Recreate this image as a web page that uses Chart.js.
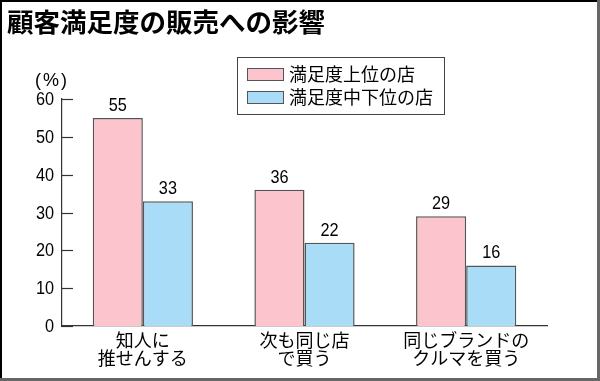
<!DOCTYPE html>
<html>
<head>
<meta charset="utf-8">
<script src="https://cdn.jsdelivr.net/npm/chart.js@4"></script>
<style>
  html, body { margin: 0; padding: 0; background: #fff; }
  #wrap { width: 600px; height: 381px; position: relative; }
</style>
</head>
<body>
<div id="wrap"><canvas id="salesChart" width="600" height="381"></canvas></div>
<script>
// data
const titleText = '顧客満足度の販売への影響';
const unitText = '(%)';
const categories = [['知人に', '推せんする'], ['次も同じ店', 'で買う'], ['同じブランドの', 'クルマを買う']];
const seriesNames = ['満足度上位の店', '満足度中下位の店'];
const topStores = [55, 36, 29];
const lowerStores = [33, 22, 16];
const yTicks = [0, 10, 20, 30, 40, 50, 60];

const pink = '#fcc5cd';
const blue = '#a8dcf7';
const edge = '#555';
const jp = "'Noto Sans CJK JP', sans-serif";
const num = "'Liberation Sans', sans-serif";

// narrow number text (the original uses a condensed face)
function narrowText(c, txt, x, y, align) {
    c.save();
    c.translate(x, y);
    c.scale(0.88, 1);
    c.textAlign = align;
    c.fillText(txt, 0, 0);
    c.restore();
}

// frame, title, unit, ticks, value labels, legend
const decor = {
    id: 'decor',
    beforeDraw(chart) {
        const c = chart.ctx;
        c.save();
        c.fillStyle = '#fff';
        c.fillRect(0, 0, chart.width, chart.height);
        c.restore();
    },
    afterDraw(chart) {
        const c = chart.ctx;
        const y = chart.scales.y;
        const area = chart.chartArea;
        c.save();

        // frame
        c.fillStyle = '#000';
        c.fillRect(0, 0, 600, 2);
        c.fillRect(0, 0, 2, 381);
        c.fillStyle = '#666';
        c.fillRect(597, 0, 3, 381);
        c.fillRect(0, 378, 600, 3);

        // title
        c.fillStyle = '#000';
        c.font = 'bold 26.5px ' + jp;
        c.textBaseline = 'middle';
        c.textAlign = 'left';
        c.fillText(titleText, 7, 22);

        // unit
        c.font = '18px ' + num;
        c.textAlign = 'center';
        c.letterSpacing = '2px';
        c.fillText(unitText, 52, 81);
        c.letterSpacing = '0px';

        // y ticks pointing inward + labels
        c.strokeStyle = '#333';
        c.lineWidth = 1.2;
        c.font = '18.5px ' + num;
        c.textBaseline = 'middle';
        yTicks.forEach(v => {
            const py = Math.round(y.getPixelForValue(v)) + 0.5;
            c.beginPath();
            c.moveTo(area.left, py);
            c.lineTo(area.left + 11, py);
            c.stroke();
            narrowText(c, String(v), 54, py, 'right');
        });

        // values above bars
        c.textBaseline = 'bottom';
        chart.data.datasets.forEach((ds, i) => {
            chart.getDatasetMeta(i).data.forEach((bar, j) => {
                narrowText(c, String(ds.data[j]), bar.x, bar.y - 3, 'center');
            });
        });

        // legend box
        c.strokeStyle = '#444';
        c.lineWidth = 1;
        c.strokeRect(237.5, 57.5, 207, 57);
        c.font = '18px ' + jp;
        c.textAlign = 'left';
        c.textBaseline = 'middle';
        chart.data.datasets.forEach((ds, i) => {
            const ly = 68 + i * 23;
            c.fillStyle = ds.backgroundColor;
            c.fillRect(247, ly, 36, 12);
            c.strokeStyle = edge;
            c.strokeRect(247.5, ly + 0.5, 36, 12);
            c.fillStyle = '#000';
            c.fillText(ds.label, 289, ly + 6);
        });
        c.restore();
    }
};

new Chart(document.getElementById('salesChart'), {
    type: 'bar',
    data: {
        labels: categories,
        datasets: [
            { label: seriesNames[0], data: topStores, backgroundColor: pink, borderColor: edge, borderWidth: 1.5 },
            { label: seriesNames[1], data: lowerStores, backgroundColor: blue, borderColor: edge, borderWidth: 1.5 }
        ]
    },
    options: {
        responsive: false,
        animation: false,
        layout: { padding: { top: 99, right: 53, left: 0, bottom: 0 } },
        plugins: {
            legend: { display: false },
            title: { display: false },
            tooltip: { enabled: false }
        },
        datasets: { bar: { categoryPercentage: 0.62, barPercentage: 1 } },
        scales: {
            x: {
                grid: { display: false },
                border: { color: '#333', width: 1.2 },
                ticks: {
                    color: '#000',
                    font: { family: jp, size: 18, lineHeight: 1.02 },
                    padding: -3,
                    maxRotation: 0
                },
                afterFit(scale) { scale.height = 55; }
            },
            y: {
                min: yTicks[0],
                max: yTicks[yTicks.length - 1],
                grid: { display: false },
                border: { color: '#333', width: 1.2 },
                ticks: { display: false, stepSize: 10 },
                afterFit(scale) { scale.width = 62; }
            }
        }
    },
    plugins: [decor]
});
</script>
</body>
</html>
